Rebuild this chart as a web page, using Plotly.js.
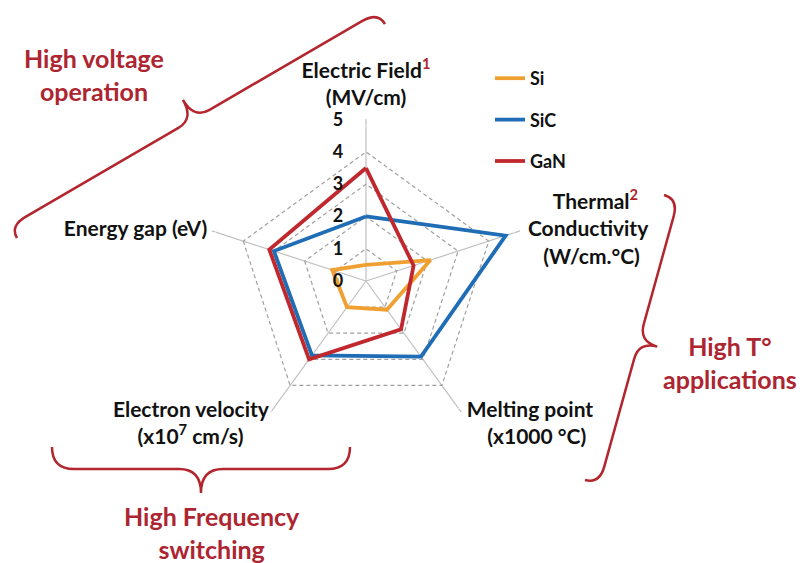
<!DOCTYPE html>
<html>
<head>
<meta charset="utf-8">
<script src="https://cdn.plot.ly/plotly-3.0.1.min.js"></script>
<style>html,body{margin:0;padding:0;background:#fff;}#chart{width:802px;height:563px;}</style>
</head>
<body>
<div id="chart"></div>
<script>
// ---- data ----
var categories = ['Electric Field', 'Thermal Conductivity', 'Melting point', 'Electron velocity', 'Energy gap'];
var NB = '\u00a0';
var categoryLabels = [
  'Electric Field<sup><span style="color:#b02530">1</span></sup><br>(MV/cm)',
  NB+NB+NB+NB+NB+'Thermal<sup><span style="color:#b02530">2</span></sup><br>Conductivity<br>' + NB+NB+NB+'(W/cm.°C)',
  NB + '<br>Melting point<br>' + NB+NB+NB+NB+'(x1000 °C)',
  NB + '<br>Electron velocity<br>(x10<sup>7</sup> cm/s)' + NB+NB+NB+NB+NB,
  'Energy gap (eV)'
];
var seriesNames = ['Si', 'SiC', 'GaN'];
var siValues  = [0.5, 2.1, 1.1, 1.0, 1.1];
var sicValues = [2.0, 4.55, 2.9, 2.85, 3.0];
var ganValues = [3.5, 1.55, 1.85, 3.0, 3.15];
var radialTicks = [0, 1, 2, 3, 4, 5];
var radialMax = 5;

// ---- styles / placement ----
var colors = ['#f0a030', '#1f6db5', '#c0282d'];
var labelPositions = ['top center', 'middle right', 'middle right', 'middle left', 'middle left'];
var labelPads = [13, 12, 8, 2, 7];   // invisible marker sizes used as text padding

function closed(a){ return a.concat([a[0]]); }
var allValues = [siValues, sicValues, ganValues];
var traces = allValues.map(function(v, i){
  return {
    type: 'scatterpolar',
    r: closed(v),
    theta: closed(categories),
    mode: 'lines',
    name: seriesNames[i],
    legendgroup: seriesNames[i],
    line: {color: colors[i], width: 3.8},
    hoverinfo: 'skip'
  };
});
// category labels placed at the outer vertices
traces.push({
  type: 'scatterpolar',
  r: categories.map(function(){ return radialMax; }),
  theta: categories,
  mode: 'markers+text',
  marker: {size: labelPads, color: 'rgba(0,0,0,0)'},
  text: categoryLabels,
  textposition: labelPositions,
  textfont: {family: 'Lato, "Open Sans", sans-serif', size: 21, color: '#111', weight: 'bold'},
  cliponaxis: false,
  showlegend: false,
  hoverinfo: 'skip'
});

// ---- decorative braces (pixel -> paper) ----
var W = 802, H = 563;
function P(x, y){ return (x / W).toFixed(5) + ',' + (1 - y / H).toFixed(5); }
function brace(ax, ay, bx, by, q, d, h, sign){
  var dx = bx - ax, dy = by - ay, L = Math.sqrt(dx*dx + dy*dy);
  var ux = dx / L, uy = dy / L;
  var nx = -uy * sign, ny = ux * sign;
  function pt(s, t){ return P(ax + s*ux + t*nx, ay + s*uy + t*ny); }
  var m = L / 2;
  return 'M' + pt(0,0) +
    ' Q' + pt(0,q) + ' ' + pt(h,q) +
    ' L' + pt(m-h,q) +
    ' Q' + pt(m,q) + ' ' + pt(m,d) +
    ' Q' + pt(m,q) + ' ' + pt(m+h,q) +
    ' L' + pt(L-h,q) +
    ' Q' + pt(L,q) + ' ' + pt(L,0);
}
var braceColor = '#b3262e';
var shapes = [
  brace(17, 238, 385, 24, 14, 36, 18, -1),
  brace(664, 195, 585, 480, 15, 34, 18, -1),
  brace(52, 447, 350, 447, 22, 46, 22, 1)
].map(function(p){
  return {type: 'path', xref: 'paper', yref: 'paper', path: p,
          line: {color: braceColor, width: 2.5}, fillcolor: 'rgba(0,0,0,0)'};
});

var noteFont = {family: 'Lato, "Open Sans", sans-serif', size: 25, color: '#ad2530', weight: 'bold'};
function note(text, x, y){
  return {text: text, xref: 'paper', yref: 'paper', x: x / W, y: 1 - y / H,
          xanchor: 'center', yanchor: 'middle', showarrow: false, font: noteFont, align: 'center'};
}

var layout = {
  width: W, height: H,
  margin: {l: 0, r: 0, t: 0, b: 0},
  paper_bgcolor: '#fff',
  font: {family: 'Lato, "Open Sans", sans-serif', color: '#111'},
  showlegend: true,
  legend: {
    x: 490 / W, y: 1 - 60 / H, xanchor: 'left', yanchor: 'top',
    font: {size: 18, color: '#111', weight: 'bold'},
    tracegroupgap: 15, bgcolor: 'rgba(0,0,0,0)'
  },
  polar: {
    domain: {x: [204 / W, 528 / W], y: [(H - 443) / H, (H - 119) / H]},
    gridshape: 'linear',
    bgcolor: '#fff',
    radialaxis: {
      range: [0, 5.02], tickvals: radialTicks, ticktext: radialTicks.map(String),
      angle: 90, side: 'counterclockwise', tickangle: 90,
      showline: false, gridcolor: '#a0a0a0', griddash: '4px,3px', gridwidth: 1.2,
      ticks: 'outside', ticklen: 16, tickcolor: 'rgba(0,0,0,0)',
      tickfont: {size: 18, color: '#111', weight: 'bold'}
    },
    angularaxis: {
      rotation: 90, direction: 'clockwise',
      showline: false, gridcolor: '#c0c0c0', gridwidth: 1.2,
      showticklabels: false, ticks: ''
    }
  },
  shapes: shapes,
  annotations: [
    note('High voltage<br>operation', 94, 74),
    note('High T°<br>applications', 730, 362),
    note('High Frequency<br>switching', 212, 532)
  ]
};

Plotly.newPlot('chart', traces, layout, {displayModeBar: false, staticPlot: true});
</script>
</body>
</html>
